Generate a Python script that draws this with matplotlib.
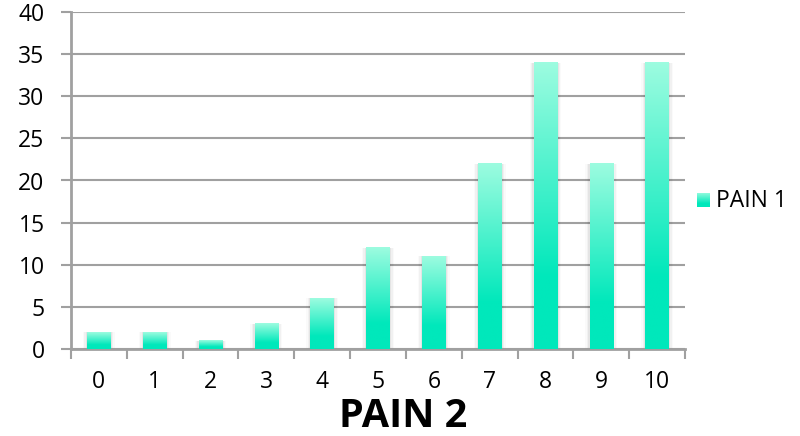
import matplotlib
matplotlib.use("Agg")
import matplotlib.pyplot as plt
import numpy as np
from matplotlib.colors import LinearSegmentedColormap
from matplotlib.patches import Rectangle

categories = ["0", "1", "2", "3", "4", "5", "6", "7", "8", "9", "10"]
values = [2, 2, 1, 3, 6, 12, 11, 22, 34, 22, 34]
series_name = "PAIN 1"
x_title = "PAIN 2"

plt.rcParams['font.family'] = ['Open Sans', 'DejaVu Sans']

fig = plt.figure(figsize=(8, 4.36), dpi=100)
ax = fig.add_axes([71/800, 1-349/436, (685-71)/800, (349-12)/436])

grid_c = "#a0a0a0"
cmap = LinearSegmentedColormap.from_list("g", [(0, "#00e8bb"), (0.25, "#00e8bb"), (1, "#9dfce0")])
grad = np.linspace(0, 1, 256).reshape(-1, 1)

n = len(categories)
bw = 0.42
for i, v in enumerate(values):
    # soft shadow
    for k, a in enumerate([0.05, 0.035, 0.02]):
        d = 0.025 * (k + 1)
        ax.add_patch(Rectangle((i - bw/2 - d, 0), bw + 2*d, v, color="#000000",
                               alpha=a, lw=0, zorder=2))
    ax.imshow(grad, cmap=cmap, origin="lower", aspect="auto",
              extent=[i - bw/2, i + bw/2, 0, v], zorder=3, interpolation="bilinear")

ax.set_xlim(-0.5, n - 0.5)
ax.set_ylim(0, 40)
ax.set_yticks(range(0, 41, 5))
ax.set_xticks(range(n))
ax.set_xticklabels(categories)
ax.set_xticks(np.arange(-0.5, n, 1), minor=True)
ax.tick_params(axis="x", which="major", length=0, pad=15, labelsize=16.5)
ax.tick_params(axis="x", which="minor", length=7, width=1.5, color=grid_c)
ax.tick_params(axis="y", length=7, width=1.5, color=grid_c, pad=12, labelsize=16.5)
ax.yaxis.grid(True, color=grid_c, lw=1.5, zorder=0)
ax.set_axisbelow(True)
for s in ["top", "right"]:
    ax.spines[s].set_visible(False)
for s in ["left", "bottom"]:
    ax.spines[s].set_color(grid_c)
    ax.spines[s].set_linewidth(2)

# legend
lax = fig.add_axes([697/800, 1-207/436, 13/800, 14/436])
lax.imshow(grad, cmap=cmap, origin="lower", aspect="auto", extent=[0, 1, 0, 1])
lax.axis("off")
fig.text(716/800, 1-201/436, series_name, fontsize=16.5, va="center", ha="left")

fig.text(403/800, 1-416/436, x_title, fontsize=28.5, fontweight="bold", ha="center", va="center")

fig.savefig("out.png", dpi=100)
